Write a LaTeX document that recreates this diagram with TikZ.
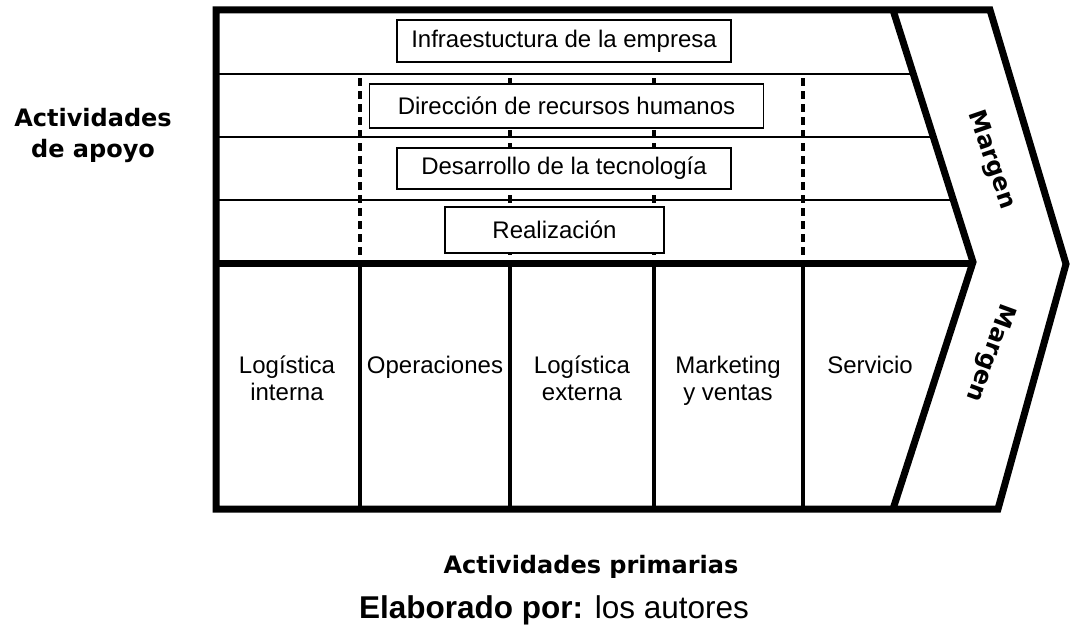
\documentclass[tikz,border=0pt]{standalone}
\usepackage{fontspec}
\setmainfont{Liberation Sans}
\newfontfamily\vfont{DejaVu Sans}
\begin{document}
\begin{tikzpicture}[x=1pt,y=-1pt,
  frame/.style={line width=7pt, line join=miter, line cap=rect},
  thinline/.style={line width=2pt},
  dashline/.style={line width=4pt, dash pattern=on 8pt off 5pt},
  colline/.style={line width=4pt},
  boxst/.style={draw, line width=1.8pt, fill=white, inner sep=0pt, font=\fontsize{24}{28}\selectfont},
  lbl/.style={align=center, inner sep=0pt, anchor=north, font=\fontsize{24}{27}\selectfont},
  boldlbl/.style={align=center, inner sep=0pt, font=\vfont\bfseries\fontsize{24}{31}\selectfont},
  marg/.style={inner sep=0pt, font=\vfont\bfseries\fontsize{24}{28}\selectfont}]
\path[use as bounding box, fill=white] (0,0) rectangle (1070,626);

% thin separators of support activities
\draw[thinline] (216,74) -- (913,74);
\draw[thinline] (216,136.5) -- (933,136.5);
\draw[thinline] (216,200) -- (953,200);

% dashed verticals
\foreach \xx in {360,510,654,803}
  \draw[dashline] (\xx,78) -- (\xx,259);

% boxes
\node[boxst, minimum width=334pt, minimum height=42pt] (infra) at (564,41) {Infraestuctura de la empresa};
\node[boxst, minimum width=394pt, minimum height=44pt] (rrhh) at (566.5,106) {Dirección de recursos humanos};
\node[boxst, minimum width=334pt, minimum height=41pt] (tec) at (564,168.5) {Desarrollo de la tecnología};
\node[boxst, minimum width=219pt, minimum height=46pt] (real) at (554.5,230) {Realización};

% primary columns
\foreach \xx in {360,510,654,803}
  \draw[colline] (\xx,263) -- (\xx,509);

% frame
\draw[frame] (216,10) -- (990,10) -- (1066,264) -- (998,509) -- (216,509) -- cycle;
\draw[frame, line cap=butt] (893,10) -- (973,262) -- (893,509);
\draw[frame, line cap=butt] (216,263) -- (973,263);

% primary labels
\node[lbl] (li) at (287,356) {Logística\\interna};
\node[lbl] (op) at (435,356) {Operaciones};
\node[lbl] (le) at (582,356) {Logística\\externa};
\node[lbl] (mv) at (728,356) {Marketing\\y ventas};
\node[lbl] (se) at (870,356) {Servicio};

% margins
\node[marg, rotate=-71] (m1) at (991,160) {Margen};
\node[marg, rotate=-110] (m2) at (990,353) {Margen};

% side and bottom labels
\node[boldlbl, anchor=north] (apoyo) at (93,108) {Actividades\\de apoyo};
\node[boldlbl, anchor=base] (prim) at (591,573) {Actividades primarias};
\node[inner sep=0pt, anchor=base, font=\fontsize{31.5}{36}\selectfont] (elab) at (554,618) {\textbf{Elaborado por:} los autores};
\end{tikzpicture}
\end{document}
